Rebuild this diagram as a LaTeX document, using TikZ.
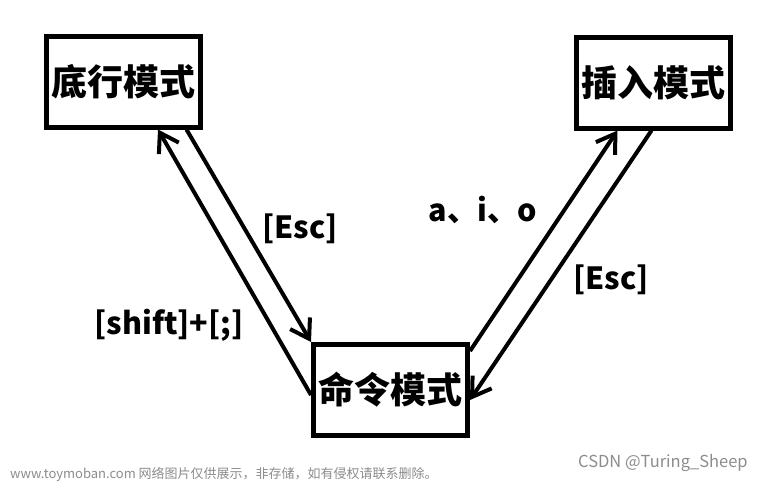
\documentclass[tikz,border=0pt]{standalone}
\usepackage{fontspec}
\newfontfamily\cjk{Noto Sans CJK SC}
\usetikzlibrary{arrows.meta,calc}

\tikzset{
  modebox/.style={draw,line width=5pt,minimum width=154pt,minimum height=91pt,inner sep=0pt,font=\cjk\bfseries\fontsize{36}{40}\selectfont},
  keylabel/.style={inner sep=0pt,font=\cjk\bfseries\fontsize{30.5}{34}\selectfont},
  switch/.style={line width=4pt,-{Straight Barb[length=18pt,width=23pt,line width=4pt]}},
  wmark/.style={inner sep=0pt,text=black!45,anchor=west}
}

\begin{document}
\begin{tikzpicture}[x=1pt,y=-1pt]
    \useasboundingbox (0,0) rectangle (763,483);

    \node[modebox] (lastline) at (123.5,81.5) {底行模式};
    \node[modebox] (insert) at (653.5,82.5) {插入模式};
    \node[modebox] (command) at (390.5,390) {命令模式};

    \draw[switch] ($(command.west)+(0,5)$) to ($(lastline.south)+(34.5,0)$);
    \draw[switch] ($(lastline.south)+(63,0)$) to (command.north west);
    \draw[switch] ($(command.north east)+(0,9)$) to ($(insert.south)+(-36,0)$);
    \draw[switch] ($(insert.south)+(-2,0)$) to ($(command.east)+(0,10)$);

    \node[keylabel] (esc1) at (300,229) {[Esc]};
    \node[keylabel] (shift) at (169,325) {[shift]+[;]};
    \node[keylabel] (aio) at (483,210) {a、i、o};
    \node[keylabel] (esc2) at (611,280) {[Esc]};

    % watermark
    \node[wmark,font=\cjk\fontsize{13}{15}\selectfont] (site) at (10,474) {www.toymoban.com 网络图片仅供展示，非存储，如有侵权请联系删除。};
    \node[wmark,font=\cjk\fontsize{16.5}{18}\selectfont] (csdn) at (578,463) {CSDN @Turing\_Sheep};
\end{tikzpicture}
\end{document}
